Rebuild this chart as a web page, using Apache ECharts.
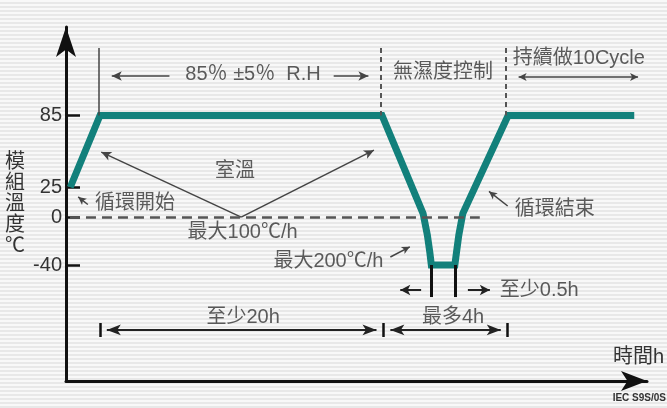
<!DOCTYPE html>
<html>
<head>
<meta charset="utf-8">
<script src="https://cdn.jsdelivr.net/npm/echarts@6/dist/echarts.min.js"></script>
<style>
  html, body { margin: 0; padding: 0; }
  body {
    width: 667px; height: 408px; overflow: hidden;
    background: repeating-linear-gradient(to bottom, #f8f8f8 0px, #f8f8f8 2px, #e8e8e8 2px, #e8e8e8 4px);
  }
  #chart { width: 667px; height: 408px; }
</style>
</head>
<body>
<div id="chart"></div>
<script>
// ---- data (schematic time position in h, module temperature in °C) ----
const timeH = [0.3, 2.4, 22.3, 25.2, 25.5, 25.68, 25.78, 27.44, 27.55, 27.72, 28.0, 31.2, 40.1];
const tempC = [25, 85, 85, 3, -15, -30, -40, -40, -30, -15, 3, 85, 85];
const yTickValues = [85, 25, 0, -40];
const yAxisName = '模\n組\n溫\n度\n℃';
const xAxisName = '時間h';

// annotation texts: [text, t, temp, align]
const notes = [
  ['85％ ±5％  R.H', 13.2, 119.3, 'center'],
  ['無濕度控制', 26.6, 121, 'center'],
  ['持續做10Cycle', 31.52, 132.7, 'left'],
  ['室溫', 11.93, 38.2, 'center'],
  ['循環開始', 2.04, 11.8, 'left'],
  ['最大100℃/h', 12.46, -12.4, 'center'],
  ['循環結束', 31.66, 6.8, 'left'],
  ['最大200℃/h', 22.4, -36.7, 'right'],
  ['至少0.5h', 30.61, -61.5, 'left'],
  ['最多4h', 27.31, -83.5, 'center'],
  ['至少20h', 12.5, -83.5, 'center']
];

const FONT = '"Liberation Sans", "Noto Sans CJK TC", sans-serif';
const TEXT = '#333';
const TEAL = '#12807b';

function seg(a, b, style, symA, symB, size) {
  return [
    { coord: a, symbol: symA || 'none', symbolSize: size || [7, 10] },
    { coord: b, symbol: symB || 'none', symbolSize: size || [7, 10], lineStyle: style }
  ];
}
const thin = { color: '#444', width: 1.5, type: 'solid' };
const dashV = { color: '#555', width: 2, type: [5, 4] };
const dark = { color: '#222', width: 2, type: 'solid' };
const bar = { color: '#111', width: 2.5, type: 'solid' };

const annot = [
  // top vertical markers
  seg([2.3, 141.4], [2.3, 85], thin),
  seg([22.2, 141.4], [22.2, 85], dashV),
  seg([31.05, 141.4], [31.05, 85], dashV),
  // 85%RH arrows
  seg([7.3, 118], [3.23, 118], thin, 'none', 'arrow', [7, 10]),
  seg([18.89, 118], [21.34, 118], thin, 'none', 'arrow', [7, 10]),
  // 10 cycles double arrow
  seg([31.94, 117.2], [40.37, 117.2], thin, 'arrow', 'arrow', [6, 8]),
  // room temperature arrows
  seg([12.36, 0], [2.49, 54.4], thin, 'none', 'arrow', [7, 10]),
  seg([12.36, 0], [21.73, 56.0], thin, 'none', 'arrow', [7, 10]),
  // cycle start / end arrows
  seg([1.54, 10.6], [0.86, 16.9], thin, 'none', 'arrow', [6, 8]),
  seg([31.17, 9.3], [29.85, 21.5], thin, 'none', 'arrow', [6, 8]),
  // 200C/h arrow
  seg([22.89, -33.3], [24.26, -24.8], thin, 'none', 'arrow', [6, 8]),
  // zero dashed line
  seg([0.28, 0], [29.2, 0], { color: '#555', width: 2.5, type: [10, 6] }),
  // bottom bars at low dwell
  seg([25.77, -40], [25.77, -66.8], { color: '#111', width: 3, type: 'solid' }),
  seg([27.45, -40], [27.45, -66.8], { color: '#111', width: 3, type: 'solid' }),
  seg([25.06, -60.9], [23.59, -60.9], dark, 'none', 'arrow', [8, 10]),
  seg([28.36, -60.9], [29.91, -60.9], dark, 'none', 'arrow', [8, 10]),
  // measurement line
  seg([2.88, -94.3], [21.91, -94.3], dark, 'arrow', 'arrow', [8, 14]),
  seg([22.89, -94.3], [30.68, -94.3], dark, 'arrow', 'arrow', [8, 14]),
  seg([2.39, -88.5], [2.39, -100.2], bar),
  seg([22.4, -88.5], [22.4, -100.2], bar),
  seg([31.17, -88.5], [31.17, -100.2], bar)
];

const chart = echarts.init(document.getElementById('chart'), null, { renderer: 'canvas' });
chart.setOption({
  animation: false,
  backgroundColor: 'transparent',
  textStyle: { fontFamily: FONT },
  grid: { left: 66, right: 17, top: 27, bottom: 27 },
  xAxis: {
    type: 'value', min: 0, max: 41,
    axisLine: { show: true, onZero: false, symbol: ['none', 'arrow'], symbolSize: [15, 26], lineStyle: { color: '#111', width: 3 } },
    axisTick: { show: false }, axisLabel: { show: false }, splitLine: { show: false },
    name: xAxisName, nameLocation: 'end', nameGap: 17,
    nameTextStyle: { fontSize: 20, color: TEXT, align: 'right', verticalAlign: 'bottom', padding: [0, 0, 14, 0], fontFamily: FONT }
  },
  yAxis: {
    type: 'value', min: -137, max: 159,
    axisLine: { show: true, symbol: ['none', 'arrow'], symbolSize: [15, 30], lineStyle: { color: '#111', width: 3 } },
    axisTick: { show: true, inside: true, length: 14, customValues: yTickValues, lineStyle: { color: '#111', width: 2.5 } },
    axisLabel: { show: true, customValues: yTickValues, margin: 4, fontSize: 20, color: TEXT, fontFamily: FONT },
    splitLine: { show: false },
    name: yAxisName, nameLocation: 'middle', nameGap: 51, nameRotate: 0,
    nameTextStyle: { fontSize: 20, lineHeight: 21, color: TEXT, align: 'center', verticalAlign: 'middle', padding: [6, 0, 0, 0], fontFamily: FONT }
  },
  series: [
    {
      type: 'line',
      data: timeH.map((t, i) => [t, tempC[i]]),
      showSymbol: false, symbol: 'none',
      lineStyle: { color: TEAL, width: 7, join: 'miter', cap: 'butt' },
      silent: true,
      z: 3,
      markLine: {
        silent: true, animation: false,
        label: { show: false },
        emphasis: { disabled: true },
        lineStyle: { color: '#444', width: 1.5, type: 'solid' },
        itemStyle: { color: '#333' },
        data: annot
      }
    },
    {
      type: 'scatter',
      symbol: 'circle', symbolSize: 1,
      itemStyle: { color: 'rgba(0,0,0,0)' },
      silent: true, z: 5,
      label: { show: true, position: 'inside', formatter: '{b}', fontSize: 20, color: TEXT, fontFamily: FONT },
      data: notes.map(n => ({ name: n[0], value: [n[1], n[2]], label: { align: n[3] } }))
    }
  ],
  graphic: [
    { type: 'text', right: 1, top: 393, style: { text: 'IEC S9S/0S', fontSize: 10, fontWeight: 'bold', fill: '#333', fontFamily: FONT } }
  ]
});
</script>
</body>
</html>
